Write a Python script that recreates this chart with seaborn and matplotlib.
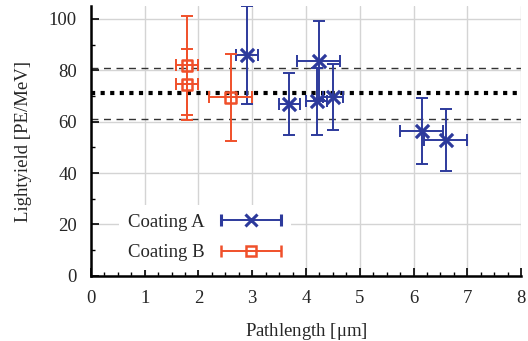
import numpy as np
import pandas as pd
import matplotlib
matplotlib.use("Agg")
import matplotlib.pyplot as plt
import seaborn as sns
from matplotlib.container import ErrorbarContainer
from matplotlib.legend_handler import HandlerErrorbar

# Coating A measurements
a_path = [2.90, 3.69, 4.24, 4.20, 4.50, 6.15, 6.60]
a_path_err = [0.2, 0.2, 0.4, 0.2, 0.19, 0.4, 0.4]
a_yield = [86.0, 67.0, 83.8, 68.0, 69.6, 56.4, 53.0]
a_yield_err = [19.0, 12.0, 15.5, 13.0, 12.8, 12.7, 12.0]

# Coating B measurements
b_path = [1.79, 1.79, 2.60]
b_path_err = [0.2, 0.2, 0.4]
b_yield = [82.0, 74.5, 69.5]
b_yield_err = [19.3, 13.7, 17.0]

# reference levels
mean_level = 71
band_levels = [61, 81]

blue = "#2d3a9c"
orange = "#f0502a"
fs = 13.5

sns.set_theme(style="whitegrid")
plt.rcParams["font.family"] = ["Liberation Serif", "DejaVu Serif"]
plt.rcParams["mathtext.fontset"] = "stix"

df_a = pd.DataFrame({"path": a_path, "yield": a_yield, "coating": "Coating A"})
df_b = pd.DataFrame({"path": b_path, "yield": b_yield, "coating": "Coating B"})

fig = plt.figure(figsize=(5.28, 3.41), dpi=100)
ax = fig.add_axes([0.172, 0.191, 0.815, 0.791])

for lvl in band_levels:
    ax.axhline(lvl, color="#333333", lw=1.0, ls=(0, (5, 4)), zorder=1)
ax.axhline(mean_level, color="black", lw=3.0, ls=(0, (1, 1.3)), zorder=1)

ax.errorbar(a_path, a_yield, xerr=a_path_err, yerr=a_yield_err, fmt="none",
            ecolor=blue, elinewidth=1.4, capsize=4, capthick=1.4, zorder=3)
ax.errorbar(b_path, b_yield, xerr=b_path_err, yerr=b_yield_err, fmt="none",
            ecolor=orange, elinewidth=1.4, capsize=4, capthick=1.4, zorder=3)

sns.scatterplot(data=df_a, x="path", y="yield", marker="x", s=90, color=blue,
                linewidth=2.3, ax=ax, zorder=4, legend=False)
sns.scatterplot(data=df_b, x="path", y="yield", marker="s", s=60, facecolor="none",
                edgecolor=orange, linewidth=1.8, ax=ax, zorder=4, legend=False)

# legend proxies: horizontal error bar with marker
ha = ax.errorbar([np.nan], [np.nan], xerr=[1], fmt="x", color=blue, ms=8, mew=2.2,
                 elinewidth=1.4, capsize=4, capthick=1.4, label="Coating A")
hb = ax.errorbar([np.nan], [np.nan], xerr=[1], fmt="s", color=orange, ms=7, mew=1.8,
                 mfc="none", elinewidth=1.4, capsize=4, capthick=1.4, label="Coating B")
leg = ax.legend(handles=[ha, hb], loc="lower left", bbox_to_anchor=(0.066, 0.022),
                markerfirst=False, frameon=True, fontsize=fs, handlelength=3.3,
                handletextpad=0.85, labelspacing=0.7, borderpad=0.46,
                borderaxespad=0,
                handler_map={ErrorbarContainer: HandlerErrorbar(xerr_size=1.6)})
leg.get_frame().set_edgecolor("none")
leg.get_frame().set_facecolor("white")
leg.get_frame().set_alpha(1.0)

ax.set_xlim(0, 8)
ax.set_ylim(0, 105)
ax.set_xticks(range(0, 9))
ax.set_yticks(range(0, 101, 20))
ax.set_xticks(np.arange(0, 8.01, 0.25), minor=True)
ax.set_yticks(range(0, 101, 10), minor=True)
ax.grid(True, which="major", color="#d4d4d4", lw=1.0)
ax.grid(False, which="minor")
ax.set_facecolor("white")

sns.despine(ax=ax)
for side in ["left", "bottom"]:
    ax.spines[side].set_color("black")
    ax.spines[side].set_linewidth(1.8)
ax.tick_params(which="both", direction="in", color="black", labelsize=fs,
               bottom=True, left=True, pad=10)
ax.tick_params(which="major", length=6, width=1.2)
ax.tick_params(which="minor", length=3, width=1.0)

ax.set_xlabel("Pathlength [$\\mathregular{\\mu}$m]", fontsize=fs, labelpad=10)
ax.set_ylabel("Lightyield [PE/MeV]", fontsize=fs, labelpad=12)

fig.savefig("out.png", dpi=100)
